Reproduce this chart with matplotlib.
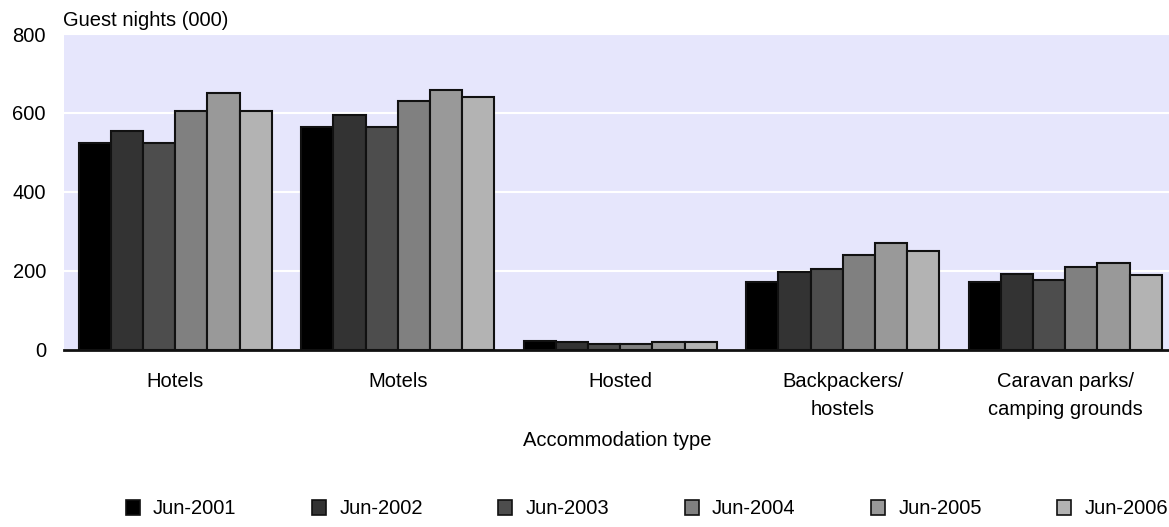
import matplotlib
matplotlib.use("Agg")
import matplotlib.pyplot as plt
import numpy as np

categories = ["Hotels", "Motels", "Hosted", "Backpackers/\nhostels", "Caravan parks/\ncamping grounds"]
series_names = ["Jun-2001", "Jun-2002", "Jun-2003", "Jun-2004", "Jun-2005", "Jun-2006"]
jun_2001 = [524, 564, 22, 170, 170]
jun_2002 = [553, 595, 19, 196, 191]
jun_2003 = [523, 563, 15, 205, 175]
jun_2004 = [604, 630, 15, 240, 210]
jun_2005 = [650, 659, 20, 270, 220]
jun_2006 = [604, 640, 20, 250, 190]
series_values = [jun_2001, jun_2002, jun_2003, jun_2004, jun_2005, jun_2006]
y_ticks = [0, 200, 400, 600, 800]
colors = ["#000000", "#333333", "#4d4d4d", "#808080", "#999999", "#b3b3b3"]

plt.rcParams['font.family'] = ['Liberation Sans', 'DejaVu Sans']
FS = 14.5

W, H = 1169, 527
fig = plt.figure(figsize=(W / 100, H / 100), dpi=100)
left, right, top, bottom = 64, 1169, 34, 349.5
ax = fig.add_axes([left / W, 1 - bottom / H, (right - left) / W, (bottom - top) / H])
ax.set_facecolor("#e6e6fc")

x = np.arange(len(categories))
bw = 0.1446
handles = []
for i, (name, vals) in enumerate(zip(series_names, series_values)):
    b = ax.bar(x + (i - 2.5) * bw, vals, width=bw, color=colors[i], edgecolor="#111111",
               linewidth=1.5, label=name, zorder=3)
    handles.append(b)

ax.set_xlim(-0.5, -0.5 + (right - left) / 222.5)
ax.set_ylim(0, 800)
ax.set_yticks(y_ticks)
ax.set_yticklabels([str(v) for v in y_ticks], fontsize=FS)
ax.tick_params(axis='y', length=0, pad=13)
ax.set_xticks(x)
ax.set_xticklabels(categories, fontsize=FS, linespacing=1.6, va='top')
ax.tick_params(axis='x', length=0, pad=16)
for s in ["top", "right", "left"]:
    ax.spines[s].set_visible(False)
ax.spines["bottom"].set_color("#111111")
ax.spines["bottom"].set_linewidth(2)
ax.spines["bottom"].set_zorder(4)
ax.grid(axis='y', color='white', linewidth=1.5, zorder=1)
ax.set_axisbelow(True)

fig.text(63 / W, 1 - 20 / H, "Guest nights (000)", fontsize=FS, ha='left', va='center')
fig.text(617 / W, 1 - 441 / H, "Accommodation type", fontsize=FS, ha='center', va='center')

leg = fig.legend(handles=handles, labels=series_names, loc='center', ncol=6,
                 bbox_to_anchor=(647 / W, 1 - 509 / H), frameon=False, fontsize=FS,
                 handlelength=0.7, handleheight=0.7, handletextpad=0.65,
                 columnspacing=3.75, borderaxespad=0)
for p in leg.get_patches():
    p.set_linewidth(1.2)

fig.savefig("out.png", dpi=100)
